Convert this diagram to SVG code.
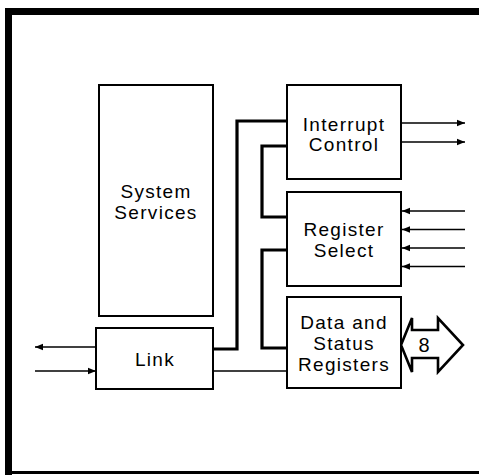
<svg xmlns="http://www.w3.org/2000/svg" width="479" height="475" viewBox="0 0 479 475">
<style>
.box{fill:#fff;stroke:#000;stroke-width:2}
.t{font-family:"Liberation Sans",Arial,sans-serif;font-size:19px;letter-spacing:1.3px;text-anchor:middle;fill:#000}
.bus{fill:none;stroke:#000;stroke-width:3.2;stroke-linejoin:miter}
.thin{fill:none;stroke:#000;stroke-width:1.6}
.arr{fill:none;stroke:#000;stroke-width:1.6;marker-end:url(#ah)}
</style>
<defs>
<marker id="ah" markerUnits="userSpaceOnUse" markerWidth="10" markerHeight="8" refX="8" refY="4" orient="auto">
<path d="M0,0.8 L8,4 L0,7.2 Z" fill="#000"/>
</marker>
</defs>
<rect width="479" height="475" fill="#fff"/>
<g id="frame">
<rect x="5" y="8" width="474" height="7" fill="#000"/>
<rect x="5" y="8" width="7" height="467" fill="#000"/>
<rect x="5" y="471" width="474" height="3" fill="#000"/>
</g>
<g id="connectors">
<path class="bus" d="M213,349 H237 V121 H287"/>
<path class="bus" d="M287,146 H262 V217 H287"/>
<path class="bus" d="M287,250 H262 V348 H287"/>
<path class="thin" d="M213,371 H287"/>
<path class="arr" d="M96,347 H35"/>
<path class="arr" d="M35,371 H96"/>
<path class="arr" d="M401,123 H465"/>
<path class="arr" d="M401,142 H465"/>
<path class="arr" d="M465,211 H402"/>
<path class="arr" d="M465,229.5 H402"/>
<path class="arr" d="M465,248 H402"/>
<path class="arr" d="M465,266.5 H402"/>
<polygon points="401,345 412,318 412,330 438,330 438,318 463,345 438,372 438,358 412,358 412,372" fill="#fff" stroke="#000" stroke-width="2.6" stroke-linejoin="miter"/>
<text class="t" x="424" y="352" style="font-size:20px;letter-spacing:0">8</text>
</g>
<g id="system-services">
<rect class="box" x="99" y="85" width="114" height="231"/>
<text class="t" x="156" y="198">System</text>
<text class="t" x="156" y="219">Services</text>
</g>
<g id="interrupt-control">
<rect class="box" x="287" y="85" width="114" height="94"/>
<text class="t" x="344" y="131">Interrupt</text>
<text class="t" x="344" y="150.5">Control</text>
</g>
<g id="register-select">
<rect class="box" x="287" y="192" width="114" height="94"/>
<text class="t" x="344" y="236">Register</text>
<text class="t" x="344" y="256.5">Select</text>
</g>
<g id="data-status">
<rect class="box" x="287" y="297" width="114" height="91"/>
<text class="t" x="344" y="328.5">Data and</text>
<text class="t" x="344" y="350">Status</text>
<text class="t" x="344" y="371">Registers</text>
</g>
<g id="link">
<rect class="box" x="96" y="328" width="117" height="61"/>
<text class="t" x="155" y="366">Link</text>
</g>
</svg>
